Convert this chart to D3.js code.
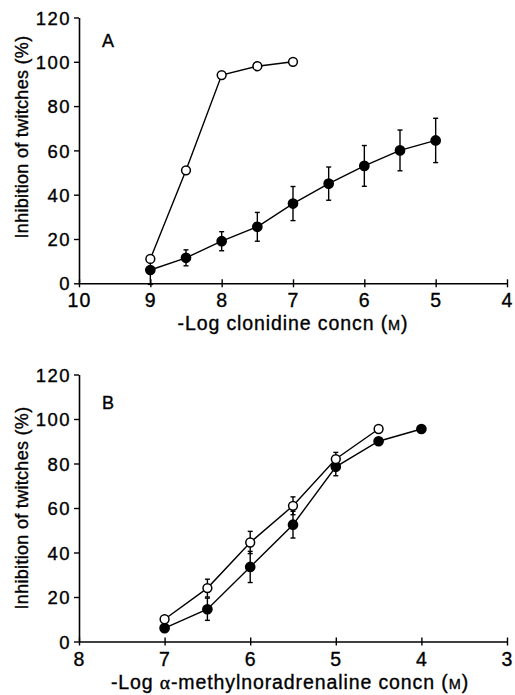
<!DOCTYPE html>
<html lang="en">
  <head>
    <meta charset="UTF-8" />
    <title>Inhibition of twitches</title>
    <style>
      body { margin: 0; background: #fff; }
      svg { display: block; font-family: "Liberation Sans", Arial, sans-serif; }
      svg text { stroke: #000; stroke-width: 0.35px; }
    </style>
  </head>
  <body>
    <svg id="chart" width="515" height="695"></svg>

    <script src="https://d3js.org/d3.v7.min.js"></script>
    <script>
      // panel A: clonidine
      const aDoseOpen = [9, 8.5, 8, 7.5, 7];
      const aOpen = [11, 51, 94, 98, 100];
      const aOpenErr = [0, 0, 0, 0, 0];
      const aDoseFilled = [9, 8.5, 8, 7.5, 7, 6.5, 6, 5.5, 5];
      const aFilled = [6, 11.5, 19, 25.5, 36, 45, 53, 60, 64.5];
      const aFilledErr = [6.5, 3.6, 4.3, 6.5, 7.7, 7.5, 9.2, 9.2, 10];
      const aTicksX = [10, 9, 8, 7, 6, 5, 4];

      // panel B: alpha-methylnoradrenaline
      const bDoseOpen = [7, 6.5, 6, 5.5, 5, 4.5];
      const bOpen = [10, 24, 44.5, 61, 82, 95.5];
      const bOpenErr = [0, 4, 5, 4, 3, 0];
      const bDoseFilled = [7, 6.5, 6, 5.5, 5, 4.5, 4];
      const bFilled = [6, 14.5, 33.5, 52.5, 78.5, 90, 95.5];
      const bFilledErr = [0, 5, 7, 6, 4, 0, 0];
      const bTicksX = [8, 7, 6, 5, 4, 3];

      const yTicks = [0, 20, 40, 60, 80, 100, 120];
      const yLabel = "Inhibition of twitches (%)";

      const svg = d3.select("#chart");

      function panel(cfg) {
        const x = d3.scaleLinear().domain(cfg.xDomain).range([79, 507]);
        const y = d3.scaleLinear().domain([0, 120]).range([cfg.bottom, cfg.top]);
        const g = svg.append("g");

        // x axis: ticks crossing the line
        const xa = g.append("g")
          .attr("transform", `translate(0,${cfg.bottom})`)
          .call(d3.axisBottom(x).tickValues(cfg.ticksX).tickSize(4).tickSizeOuter(0).tickFormat(d3.format("d")));
        xa.selectAll(".tick line").attr("y1", -4).attr("y2", 4);
        xa.selectAll(".tick text").attr("dy", 0).attr("y", 24)
          .attr("font-size", 19.5).attr("letter-spacing", 1.2);

        const ya = g.append("g")
          .attr("transform", "translate(79,0)")
          .call(d3.axisLeft(y).tickValues(yTicks).tickSize(5).tickSizeOuter(0));
        ya.selectAll(".tick text").attr("x", -8).attr("dy", "0.36em")
          .attr("font-size", 18.5).attr("letter-spacing", 1.5);
        g.selectAll(".domain").attr("stroke-width", 1.6);
        g.selectAll(".tick line").attr("stroke-width", 1.4);

        // y label
        g.append("text")
          .attr("transform", `translate(28,${cfg.yLabelMid}) rotate(-90)`)
          .attr("text-anchor", "middle")
          .attr("font-size", 18).attr("letter-spacing", 0.3)
          .text(yLabel);

        // panel letter
        g.append("text").attr("x", 102).attr("y", cfg.letterY)
          .attr("font-size", 18).text(cfg.letter);

        // x label
        const xl = g.append("text")
          .attr("x", cfg.xLabelMid).attr("y", cfg.bottom + 47)
          .attr("text-anchor", "middle").attr("font-size", 19.5)
          .attr("letter-spacing", 0.9);
        cfg.xLabel(xl);

        const line = d3.line().x(d => x(d[0])).y(d => y(d[1]));

        function series(doses, vals, errs, filled) {
          const pts = doses.map((d, i) => [d, vals[i], errs[i]]);
          g.append("path").datum(pts).attr("d", line)
            .attr("fill", "none").attr("stroke", "#000").attr("stroke-width", 1.4);
          const eb = g.append("g").selectAll("g").data(pts.filter(p => p[2] > 0)).join("g");
          eb.append("line")
            .attr("x1", p => x(p[0])).attr("x2", p => x(p[0]))
            .attr("y1", p => y(p[1] + p[2])).attr("y2", p => y(p[1] - p[2]))
            .attr("stroke", "#000").attr("stroke-width", 1.4);
          eb.selectAll("line.cap").data(p => [[p[0], p[1] + p[2]], [p[0], p[1] - p[2]]]).join("line")
            .attr("class", "cap")
            .attr("x1", c => x(c[0]) - 2.5).attr("x2", c => x(c[0]) + 2.5)
            .attr("y1", c => y(c[1])).attr("y2", c => y(c[1]))
            .attr("stroke", "#000").attr("stroke-width", 1.4);
          g.append("g").selectAll("circle").data(pts).join("circle")
            .attr("cx", p => x(p[0])).attr("cy", p => y(p[1]))
            .attr("r", filled ? 4.6 : 4.4)
            .attr("fill", filled ? "#000" : "#fff")
            .attr("stroke", "#000").attr("stroke-width", 1.5);
        }
        series(cfg.filled[0], cfg.filled[1], cfg.filled[2], true);
        series(cfg.open[0], cfg.open[1], cfg.open[2], false);
      }

      panel({
        letter: "A", top: 17.5, bottom: 283.3, xDomain: [10, 4], ticksX: aTicksX,
        letterY: 47, yLabelMid: 137, xLabelMid: 293,
        open: [aDoseOpen, aOpen, aOpenErr],
        filled: [aDoseFilled, aFilled, aFilledErr],
        xLabel: t => {
          t.append("tspan").text("-Log clonidine concn (");
          t.append("tspan").attr("font-size", 14.5).text("M");
          t.append("tspan").text(")");
        }
      });

      panel({
        letter: "B", top: 374.5, bottom: 641.5, xDomain: [8, 3], ticksX: bTicksX,
        letterY: 409, yLabelMid: 508, xLabelMid: 290,
        open: [bDoseOpen, bOpen, bOpenErr],
        filled: [bDoseFilled, bFilled, bFilledErr],
        xLabel: t => {
          t.append("tspan").text("-Log ");
          t.append("tspan").attr("font-family", "'Liberation Serif', serif").text("α");
          t.append("tspan").text("-methylnoradrenaline concn (");
          t.append("tspan").attr("font-size", 14.5).text("M");
          t.append("tspan").text(")");
        }
      });
    </script>
  </body>
</html>
